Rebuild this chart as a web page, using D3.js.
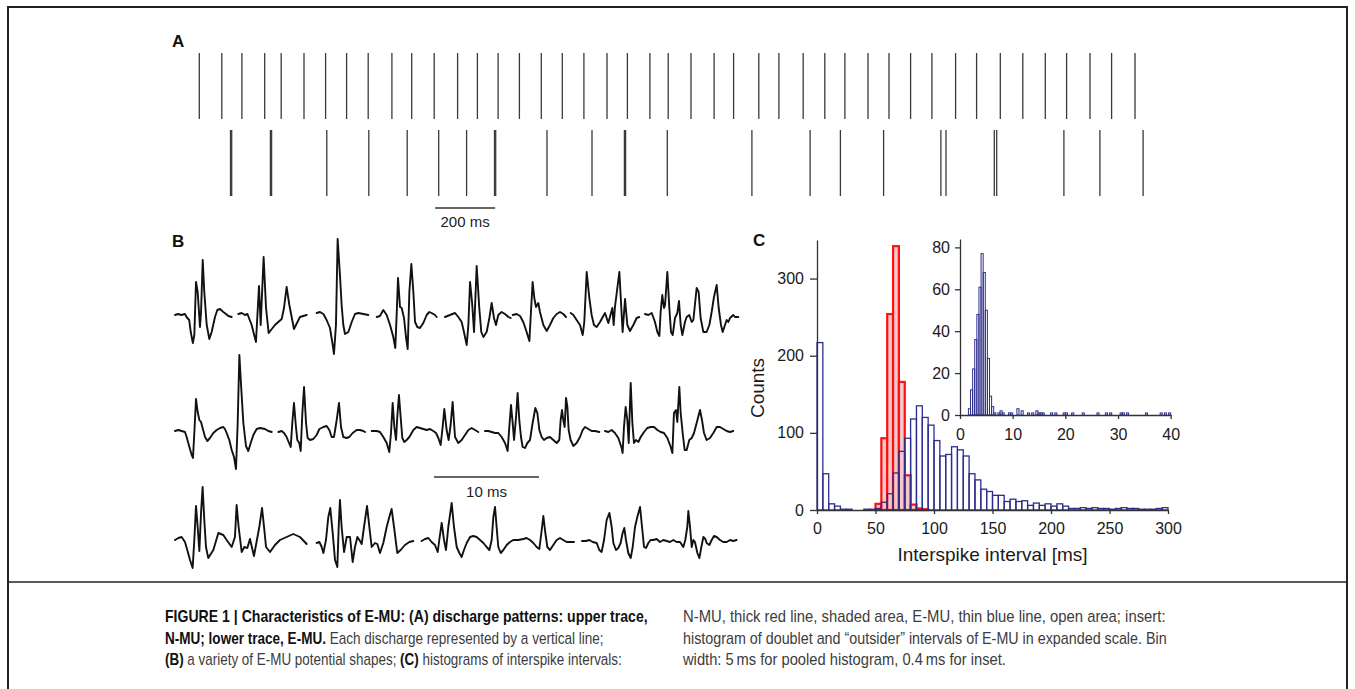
<!DOCTYPE html>
<html><head><meta charset="utf-8">
<script src="https://cdn.jsdelivr.net/npm/d3@7"></script>
<style>body{margin:0;background:#fff}svg{display:block}</style>
</head><body>
<svg id="c" width="1355" height="689"></svg>
<script>
// ================= DATA =================
// Panel A: discharge times (ms)
const nmuSpikes = [31,106,173,249,304,380,452,522,594,673,739,814,892,958,1027,1098,1171,1241,1313,1390,1458,1533,1594,1670,1747,1812,1896,1963,2044,2116,2183,2260,2330,2402,2473,2552,2622,2701,2776,2851,2922,3000,3072,3150];
const emuSpikes = [135,139,268,272,456,596,724,829,922,1015,1019,1190,1340,1448,1452,1591,1873,2067,2168,2312,2503,2520,2681,2689,2913,3033,3177];

// Panel B: E-MU potential shapes, [time ms, amplitude]
const row1 = [
 [[0,0],[0.3,1],[0.6,0],[0.95,1],[1.1,-2],[1.35,-5],[1.5,-17],[1.7,-28],[1.84,-20],[2.0,33],[2.16,23],[2.38,-12],[2.48,3],[2.64,55],[2.79,23],[3.02,-10],[3.27,-24],[3.49,-17],[3.81,-2],[4.03,5],[4.29,6],[4.6,3],[4.86,1],[5.08,-1],[5.4,-2]],
 [[6.03,1],[6.35,2],[6.67,0],[6.9,1],[7.3,-10],[7.71,-27],[8.0,29],[8.16,-10],[8.44,58],[8.67,7],[8.92,-18],[9.52,-10],[10.16,-4],[10.38,7],[10.63,28],[10.89,10],[11.33,-14],[11.9,-2],[12.22,-1],[12.54,0]],
 [[13.49,2],[13.81,3],[14.13,1],[14.44,-5],[14.76,-13],[15.02,-30],[15.14,-39],[15.33,-10],[15.49,76],[15.71,40],[15.87,10],[16.03,-10],[16.19,-19],[16.51,-17],[16.83,-7],[17.14,1],[17.46,2],[17.94,1],[18.41,0]],
 [[19.21,-2],[19.52,-1],[19.84,5],[20.16,0],[20.48,-10],[20.79,-22],[20.98,-33],[21.11,0],[21.24,37],[21.43,8],[21.59,7],[21.81,-3],[22.0,-22],[22.16,-34],[22.32,23],[22.51,51],[22.7,23],[22.86,-7],[23.08,-12],[23.33,-13],[23.65,-8],[23.97,0],[24.22,3],[24.44,2],[24.76,0],[24.92,-2]],
 [[25.71,-2],[26.19,0],[26.67,2],[26.98,-2],[27.3,-7],[27.52,-17],[27.78,-30],[27.94,-10],[28.1,33],[28.29,13],[28.48,-17],[28.73,49],[28.98,7],[29.17,-17],[29.37,-22],[29.68,-17],[29.94,-3],[30.16,12],[30.38,-3],[30.57,-10],[30.79,0],[31.11,3],[31.43,1],[31.75,-2],[31.97,-3]],
 [[32.16,0],[32.54,1],[32.86,-1],[33.17,-7],[33.49,-17],[33.75,-26],[33.9,3],[34.06,33],[34.22,17],[34.38,8],[34.6,12],[34.76,3],[35.08,-10],[35.4,-16],[35.71,-10],[36.03,-3],[36.35,1],[36.67,3],[36.98,1],[37.24,-2]],
 [[37.68,2],[37.94,0],[38.25,-5],[38.57,-10],[38.83,-20],[38.98,-7],[39.21,43],[39.46,17],[39.68,0],[39.9,-10],[40.16,-12],[40.48,-7],[40.95,2],[41.27,-8],[41.65,7],[41.78,-10],[41.9,8],[42.32,43],[42.63,-17],[42.86,16],[43.08,-10],[43.33,-16],[43.65,-10],[43.97,-3],[44.22,-2]],
 [[44.76,1],[45.08,0],[45.4,2],[45.71,-7],[45.94,-17],[46.13,-21],[46.25,3],[46.41,20],[46.57,7],[46.67,10],[46.89,43],[47.08,7],[47.24,-17],[47.4,-20],[47.62,-3],[47.84,2],[48.0,14],[48.16,-10],[48.32,-20],[48.57,-7],[48.73,-2],[48.98,0],[49.21,-7],[49.37,-5],[49.68,27],[49.87,23],[50.06,-3],[50.32,-17],[50.63,-17],[50.89,-10],[51.11,3],[51.33,18],[51.59,30],[51.78,7],[52.0,-10],[52.16,-17],[52.38,-10],[52.54,-5],[52.7,-7],[52.86,-3],[53.17,0],[53.33,-2],[53.65,-2]]
];
const row2 = [
 [[0,1],[0.32,2],[0.63,1],[0.95,0],[1.11,-5],[1.37,-15],[1.59,-23],[1.71,-26],[1.84,-1],[2.0,33],[2.16,20],[2.32,12],[2.48,10],[2.63,4],[2.86,-5],[3.08,-9],[3.33,-6],[3.65,-1],[3.97,2],[4.29,4],[4.6,5],[4.76,3],[4.92,-1],[5.17,-8],[5.4,-18],[5.62,-25],[5.81,-37],[5.97,9],[6.13,77],[6.32,42],[6.51,9],[6.76,-14],[6.98,-19],[7.21,-11],[7.46,-3],[7.78,3],[8.1,4],[8.57,3],[8.89,1],[9.21,0]],
 [[9.84,0],[10.16,1],[10.38,-1],[10.63,-5],[10.86,-11],[11.02,-15],[11.17,9],[11.33,29],[11.52,5],[11.65,-8],[11.84,-11],[11.97,-19],[12.13,19],[12.29,45],[12.48,9],[12.63,-6],[12.86,-8],[13.17,-7],[13.49,-3],[13.75,3],[14.13,5],[14.44,6],[14.7,2],[14.92,-5],[15.14,-5],[15.4,12],[15.62,29],[15.81,5],[16.03,-5],[16.35,-6],[16.6,-5],[16.92,-1],[17.3,2],[17.62,2],[17.94,1],[18.1,0]],
 [[18.73,1],[19.21,1],[19.52,0],[19.84,-5],[20.16,-11],[20.41,-20],[20.57,-1],[20.73,29],[20.89,5],[21.05,-8],[21.17,15],[21.33,37],[21.49,15],[21.65,-6],[21.84,-10],[22.06,-8],[22.32,-5],[22.7,2],[23.02,5],[23.33,4],[23.65,3],[23.97,2],[24.29,3],[24.6,1],[24.86,-1],[25.08,-6],[25.3,-13],[25.49,5],[25.65,23],[25.87,2],[26.06,-8],[26.25,7],[26.44,30],[26.67,-5],[26.98,-11],[27.3,-8],[27.62,-3],[27.94,2],[28.25,4],[28.57,2],[28.89,0]],
 [[29.52,1],[29.84,1],[30.16,0],[30.48,-1],[30.79,-1],[31.11,-5],[31.43,-11],[31.68,-19],[31.84,5],[32.0,27],[32.16,9],[32.29,-8],[32.48,15],[32.63,39],[32.79,12],[32.95,-5],[33.11,-15],[33.33,-16],[33.56,-11],[33.81,-8],[34.06,9],[34.32,24],[34.51,19],[34.7,2],[34.92,-5],[35.14,-8],[35.4,-6],[35.71,-5],[36.03,-8],[36.35,-11],[36.6,-8],[36.73,12],[36.86,22],[36.98,12],[37.11,5],[37.24,34],[37.37,25],[37.49,2],[37.68,-8],[37.94,-14],[38.25,-11],[38.57,-5],[38.83,2],[39.05,5],[39.37,3],[39.68,1],[40.0,1],[40.41,0]],
 [[40.95,1],[41.27,0],[41.59,2],[41.9,-1],[42.22,-6],[42.54,-16],[42.63,-21],[42.76,5],[42.92,25],[43.08,12],[43.21,-11],[43.4,49],[43.56,9],[43.71,-11],[43.9,-8],[44.13,-10],[44.35,-5],[44.67,0],[44.98,4],[45.3,5],[45.62,5],[45.94,2],[46.25,0],[46.57,-1],[46.89,-6],[47.21,-15],[47.37,-21],[47.52,19],[47.71,22],[47.84,10],[48.03,45],[48.16,19],[48.35,-1],[48.54,-18],[48.73,-18],[48.98,-8],[49.21,-6],[49.43,-1],[49.68,9],[50.0,22],[50.19,12],[50.38,-1],[50.63,-8],[50.95,-6],[51.27,-1],[51.59,5],[51.9,5],[52.22,3],[52.54,1],[52.86,0],[53.17,1]]
];
const row3 = [
 [[0,0],[0.32,2],[0.63,3],[0.95,-2],[1.17,-10],[1.43,-20],[1.68,-28],[1.84,0],[2.0,34],[2.16,13],[2.32,-11],[2.48,27],[2.63,53],[2.79,20],[2.95,-7],[3.17,-18],[3.65,-10],[4.13,7],[4.6,5],[4.92,0],[5.4,-7],[5.71,3],[5.87,35],[6.06,13],[6.35,-12],[6.6,-7],[6.89,-8],[7.14,1],[7.52,-16],[8.03,13],[8.29,32],[8.48,13],[8.67,-7],[9.05,-12],[9.52,-5],[10.0,0],[10.63,3],[11.27,6],[11.9,3],[12.54,-4]],
 [[13.49,-3],[13.75,-2],[13.97,-7],[14.13,-13],[14.38,0],[14.6,23],[14.79,32],[15.02,7],[15.24,-20],[15.46,-27],[15.59,13],[15.71,40],[15.87,13],[16.1,-12],[16.35,3],[16.67,3],[16.92,-22],[17.14,-7],[17.37,3],[17.56,0],[17.78,-4],[18.0,13],[18.29,34],[18.51,13],[18.73,-7],[19.05,-3],[19.27,-4],[19.52,-13],[19.84,-3],[20.16,13],[20.41,23],[20.63,31],[20.86,13],[21.17,-13],[21.49,-10],[21.9,-5],[22.32,-2],[22.7,-1]],
 [[23.49,-1],[23.81,1],[24.13,2],[24.44,-2],[24.76,-5],[25.02,-12],[25.17,0],[25.4,17],[25.62,0],[25.81,-10],[26.03,13],[26.35,37],[26.57,13],[26.83,-7],[27.08,-13],[27.3,-17],[27.52,-10],[27.78,-3],[28.1,3],[28.41,4],[28.73,3],[29.05,0],[29.37,-3],[29.68,-7],[29.94,-10],[30.16,0],[30.32,23],[30.48,33],[30.63,13],[30.79,-7],[31.02,-13],[31.27,-10],[31.59,-5],[31.9,-2],[32.22,0],[32.7,0],[33.17,1],[33.49,2],[33.81,0],[34.13,-3],[34.44,-7],[34.7,-9],[34.89,7],[35.08,24],[35.27,7],[35.46,-7],[35.71,-10],[36.03,-5],[36.35,0],[36.67,2],[36.98,0],[37.3,-2],[37.78,-2],[38.0,-2]],
 [[38.76,-1],[39.14,-1],[39.46,0],[39.78,-2],[40.16,-3],[40.41,-10],[40.63,-12],[40.86,0],[41.11,20],[41.37,27],[41.59,13],[41.75,-3],[42.0,-10],[42.22,-8],[42.44,-3],[42.63,7],[42.79,12],[42.95,0],[43.17,-13],[43.4,-18],[43.59,-7],[43.81,13],[44.03,23],[44.29,33],[44.48,13],[44.67,-7],[44.86,-8],[45.08,-3],[45.3,0],[45.56,0],[45.87,1],[46.19,-2],[46.51,0],[46.83,-1],[47.14,-2],[47.46,0],[47.78,-2],[48.1,-2],[48.41,-7],[48.6,0],[48.79,13],[48.89,29],[49.05,13],[49.21,-7],[49.37,0],[49.52,-2],[49.75,-13],[49.94,-18],[50.13,-7],[50.32,3],[50.51,1],[50.63,-3],[50.89,-5],[51.11,0],[51.33,4],[51.59,3],[51.9,0],[52.22,-2],[52.54,-2],[52.86,0],[53.17,-1],[53.49,0]]
];
const traceRows = [row1, row2, row3];

// Panel C: pooled histogram, 5 ms bins starting at 0 ms
const mainBinWidth = 5;
const emuCounts = [217,47,8,5,1,1,0,0,1,1, 2,10,21,48,76,93,118,135,120,110, 90,70,72,82,78,70,47,39,27,24, 19,19,11,14,11,12,6,9,6,8, 5,8,5,2,2,3,2,3,2,2, 1,2,3,2,2,1,1,1,2,3];
const nmuBinStarts = [50,55,60,65,70,75,80,85,90];
const nmuCounts = [8,93,254,342,166,45,7,2,1];
const mainXTicks = [0,50,100,150,200,250,300];
const mainYTicks = [0,100,200,300];

// Inset: 0.4 ms bins (non-empty bins only)
const insetBinWidth = 0.4;
const insetBinStarts = [1.6,2.0,2.4,2.8,3.2,3.6,4.0,4.4,4.8,5.2,5.6,6.0,6.4,7.2,7.6,8.0,9.2,9.6,10.8,11.6,12.8,13.6,14.4,14.8,15.2,15.6,17.2,18.0,19.6,20.0,21.2,23.2,26.0,27.6,28.4,30.4,30.8,31.6,35.2,38.0,38.8,39.6];
const insetCounts    = [3,12,22,36,48,61,77,68,50,27,9,4,1,1,2,1,1,1,3,2,1,1,2,1,1,1,1,1,1,1,1,1,1,1,1,1,1,1,1,1,1,1];
const insetXTicks = [0,10,20,30,40];
const insetYTicks = [0,20,40,60,80];

// Caption
const captionLeft = [
  [["FIGURE 1 | Characteristics of E-MU: (A) discharge patterns: upper trace,", true]],
  [["N-MU; lower trace, E-MU.", true], [" Each discharge represented by a vertical line;", false]],
  [["(B)", true], [" a variety of E-MU potential shapes; ", false], ["(C)", true], [" histograms of interspike intervals:", false]]
];
const captionRight = [
  [["N-MU, thick red line, shaded area, E-MU, thin blue line, open area; insert:", false]],
  [["histogram of doublet and \u201Coutsider\u201D intervals of E-MU in expanded scale. Bin", false]],
  [["width: 5\u2009ms for pooled histogram, 0.4\u2009ms for inset.", false]]
];

// ================= DRAW =================
const svg = d3.select('#c');
const FONT = '"Liberation Sans", Arial, Helvetica, sans-serif';
const AX = '#333';

// frame
svg.append('path').attr('d','M8,689V7H1347V689').attr('fill','none').attr('stroke','#222').attr('stroke-width',2);
svg.append('line').attr('x1',8).attr('x2',1347).attr('y1',582).attr('y2',582).attr('stroke','#222').attr('stroke-width',1.5);

function label(t,x,y){ svg.append('text').attr('x',x).attr('y',y).attr('font-family',FONT).attr('font-weight','bold').attr('font-size',17).attr('fill','#111').text(t); }
label('A',172,47); label('B',172,247); label('C',753,246);

// ---- Panel A ----
const xA = d3.scaleLinear().domain([0,3200]).range([190,1150]);
svg.append('g').selectAll('line').data(nmuSpikes).join('line')
  .attr('x1',d=>xA(d)).attr('x2',d=>xA(d)).attr('y1',53).attr('y2',119)
  .attr('stroke','#3a3a3a').attr('stroke-width',1.3);
svg.append('g').selectAll('line').data(emuSpikes).join('line')
  .attr('x1',d=>xA(d)).attr('x2',d=>xA(d)).attr('y1',130).attr('y2',196)
  .attr('stroke','#3a3a3a').attr('stroke-width',1.3);
svg.append('line').attr('x1',xA(817)).attr('x2',xA(1017)).attr('y1',208).attr('y2',208).attr('stroke',AX).attr('stroke-width',1.5);
svg.append('text').attr('x',(xA(817)+xA(1017))/2).attr('y',227).attr('text-anchor','middle')
  .attr('font-family',FONT).attr('font-size',15).attr('fill','#222').text('200 ms');

// ---- Panel B ----
const xB = d3.scaleLinear().domain([0,54]).range([175,742]);
const yB = d3.scaleLinear().domain([0,1]).range([0,-1]);
const rowBase = [315,432,540];
const lineB = d3.line().x(d=>xB(d[0])).y(d=>yB(d[1]));
traceRows.forEach((row,i)=>{
  const g = svg.append('g').attr('transform',`translate(0,${rowBase[i]})`);
  g.selectAll('path').data(row).join('path').attr('d',lineB)
   .attr('fill','none').attr('stroke','#111').attr('stroke-width',1.9)
   .attr('stroke-linejoin','round').attr('stroke-linecap','round');
});
svg.append('line').attr('x1',xB(24.67)).attr('x2',xB(34.67)).attr('y1',477).attr('y2',477).attr('stroke',AX).attr('stroke-width',1.5);
svg.append('text').attr('x',(xB(24.67)+xB(34.67))/2).attr('y',497).attr('text-anchor','middle')
  .attr('font-family',FONT).attr('font-size',15).attr('fill','#222').text('10 ms');

// ---- Panel C main ----
const xC = d3.scaleLinear().domain([0,300]).range([817,1168]);
const yC = d3.scaleLinear().domain([0,350]).range([510,240]);
const nmuData = nmuBinStarts.map((s,i)=>({s, c:nmuCounts[i]}));
const emuData = emuCounts.map((c,i)=>({s:i*mainBinWidth, c})).filter(d=>d.c>0);
svg.append('g').selectAll('rect').data(nmuData).join('rect')
  .attr('x',d=>xC(d.s)).attr('width',d=>xC(d.s+mainBinWidth)-xC(d.s))
  .attr('y',d=>yC(d.c)).attr('height',d=>yC(0)-yC(d.c))
  .attr('fill','#f7c6c8').attr('stroke','#ff1010').attr('stroke-width',2.2);
svg.append('g').selectAll('rect').data(emuData).join('rect')
  .attr('x',d=>xC(d.s)).attr('width',d=>xC(d.s+mainBinWidth)-xC(d.s))
  .attr('y',d=>yC(d.c)).attr('height',d=>yC(0)-yC(d.c))
  .attr('fill','none').attr('stroke','#2d2d8e').attr('stroke-width',1.3);

function styleAxis(g){
  g.selectAll('path,line').attr('stroke',AX).attr('stroke-width',1.3);
  g.selectAll('text').attr('font-family',FONT).attr('font-size',16).attr('fill','#1a1a1a');
}
svg.append('g').attr('transform','translate(0,510)')
  .call(d3.axisBottom(xC).tickValues(mainXTicks).tickSize(4).tickSizeOuter(0).tickPadding(9)).call(styleAxis);
svg.append('g').attr('transform','translate(817,0)')
  .call(d3.axisLeft(yC).tickValues(mainYTicks).tickSize(7).tickSizeOuter(0).tickPadding(6)).call(styleAxis);
svg.append('text').attr('transform','translate(764,388) rotate(-90)').attr('text-anchor','middle')
  .attr('font-family',FONT).attr('font-size',19).attr('fill','#1a1a1a').text('Counts');
svg.append('text').attr('x',992.5).attr('y',561).attr('text-anchor','middle')
  .attr('font-family',FONT).attr('font-size',19).attr('fill','#1a1a1a').text('Interspike interval [ms]');

// ---- Inset ----
const xI = d3.scaleLinear().domain([0,40]).range([960,1170.7]);
const yI = d3.scaleLinear().domain([0,84]).range([415,239]);
const insetData = insetBinStarts.map((s,i)=>({s, c:insetCounts[i]}));
svg.append('g').selectAll('rect').data(insetData).join('rect')
  .attr('x',d=>xI(d.s)).attr('width',d=>xI(d.s+insetBinWidth)-xI(d.s))
  .attr('y',d=>yI(d.c)).attr('height',d=>yI(0)-yI(d.c))
  .attr('fill','none').attr('stroke','#2d2d8e').attr('stroke-width',1);
svg.append('g').attr('transform','translate(0,415)')
  .call(d3.axisBottom(xI).tickValues(insetXTicks).tickSize(4).tickSizeOuter(0).tickPadding(10)).call(styleAxis);
svg.append('g').attr('transform','translate(960,0)')
  .call(d3.axisLeft(yI).tickValues(insetYTicks).tickSize(5).tickSizeOuter(0).tickPadding(5)).call(styleAxis);

// ---- Caption ----
const CAPFONT = '"Liberation Sans Narrow","Liberation Sans",Arial,sans-serif';
const capBase = [622,644,665];
const leftW = [483,439,457], rightW = [483,484,323];
function caption(lines, x, widths){
  lines.forEach((parts,i)=>{
    const t = svg.append('text').attr('font-family',CAPFONT).attr('font-size',16).style('white-space','pre');
    parts.forEach(([s,b])=>{
      t.append('tspan').attr('font-weight',b?'bold':'normal').attr('fill',b?'#111':'#3c3c3c').text(s);
    });
    const w = t.node().getComputedTextLength();
    t.attr('transform',`translate(${x},${capBase[i]}) scale(${widths[i]/w},1)`);
  });
}
caption(captionLeft,165,leftW);
caption(captionRight,683,rightW);
</script>
</body></html>
